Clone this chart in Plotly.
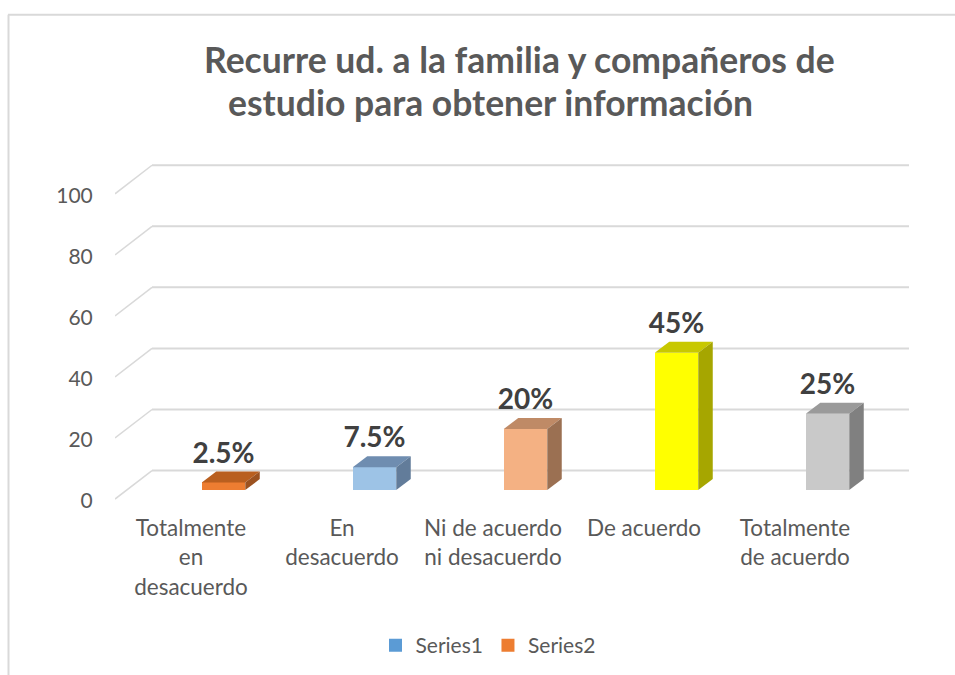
import plotly.graph_objects as go

# --- data ---
categories = ["Totalmente<br>en<br>desacuerdo", "En<br>desacuerdo",
              "Ni de acuerdo<br>ni desacuerdo", "De acuerdo", "Totalmente<br>de acuerdo"]
values = [2.5, 7.5, 20, 45, 25]
value_labels = ["2.5%", "7.5%", "20%", "45%", "25%"]
y_ticks = [0, 20, 40, 60, 80, 100]
front_colors = ["#ED7D31", "#9DC3E6", "#F4B183", "#FFFF00", "#C9C9C9"]
top_colors = ["#B95F1F", "#6F8DB0", "#BF8A66", "#C8C800", "#9A9A9A"]
side_colors = ["#9C5220", "#627C9A", "#9B7052", "#A6A600", "#808080"]
legend_names = ["Series1", "Series2"]
legend_colors = ["#5B9BD5", "#ED7D31"]

W, H = 955, 675
PX_X = 151.0   # pixels per category
PX_Y = 3.05    # pixels per value unit
L, R = 115, 909
Y0_PX = 499    # pixel of value 0 on the front plane
Y_MIN, Y_MAX = -2.6, 115
X_MIN = -(191 - L) / PX_X
X_MAX = (R - 191) / PX_X
PLOT_T = Y0_PX - Y_MAX * PX_Y
PLOT_B = Y0_PX - Y_MIN * PX_Y
m_top = PLOT_T
m_bot = H - PLOT_B


def px(x):
    return (x - L) / (R - L)


def py(y):
    return 1 - (y - PLOT_T) / (PLOT_B - PLOT_T)


# projection offsets of the pseudo-3D view
floor_dy = 9 / PX_Y
bar_w = 43.5 / PX_X
bar_off = 32.5 / PX_X - bar_w / 2
depth_dx = 14.5 / PX_X
depth_dy = 11 / PX_Y
wall_dx = 37 / PX_X
wall_dy = 28.5 / PX_Y

TXT = "#595959"
FONT = "Lato"
xs = list(range(len(categories)))

fig = go.Figure()

fig.add_trace(go.Bar(
    x=xs, y=values, base=floor_dy, width=bar_w, offset=bar_off,
    marker=dict(color=front_colors, line=dict(width=0)),
    showlegend=False, hoverinfo="skip"))

for i, v in enumerate(values):
    x0 = i + bar_off
    x1 = x0 + bar_w
    top = v + floor_dy
    fig.add_trace(go.Scatter(
        x=[x0, x0 + depth_dx, x1 + depth_dx, x1, x0],
        y=[top, top + depth_dy, top + depth_dy, top, top],
        mode="lines", fill="toself", fillcolor=top_colors[i],
        line=dict(width=0), showlegend=False, hoverinfo="skip"))
    fig.add_trace(go.Scatter(
        x=[x1, x1 + depth_dx, x1 + depth_dx, x1, x1],
        y=[top, top + depth_dy, floor_dy + depth_dy, floor_dy, top],
        mode="lines", fill="toself", fillcolor=side_colors[i],
        line=dict(width=0), showlegend=False, hoverinfo="skip"))

fig.add_trace(go.Scatter(
    x=[i + bar_off + bar_w / 2 for i in xs],
    y=[v + floor_dy + depth_dy + 0.6 for v in values],
    mode="text", text=value_labels, textposition="top center",
    textfont=dict(family=FONT, size=28, color="#404040", weight="bold"),
    showlegend=False, hoverinfo="skip"))

for name, col in zip(legend_names, legend_colors):
    fig.add_trace(go.Scatter(
        x=[None], y=[None], mode="markers", name=name,
        marker=dict(symbol="square", size=13, color=col)))

shapes = []
for t in y_ticks:
    shapes.append(dict(type="line", xref="x", yref="y", layer="below",
                       x0=X_MIN, y0=t, x1=X_MIN + wall_dx, y1=t + wall_dy,
                       line=dict(color="#D9D9D9", width=1.5)))
    shapes.append(dict(type="line", xref="x", yref="y", layer="below",
                       x0=X_MIN + wall_dx, y0=t + wall_dy, x1=X_MAX, y1=t + wall_dy,
                       line=dict(color="#D9D9D9", width=2)))
# outer frame of the chart
shapes.append(dict(type="line", xref="paper", yref="paper", x0=px(8), x1=px(W), y0=py(15), y1=py(15),
                   line=dict(color="#D9D9D9", width=2)))
shapes.append(dict(type="line", xref="paper", yref="paper", x0=px(8.5), x1=px(8.5), y0=py(H), y1=py(15),
                   line=dict(color="#D9D9D9", width=2)))

title_lines = [("Recurre ud. a la familia y compañeros de", 519.5, 59.5),
               ("estudio para obtener información", 490, 103)]
annotations = [dict(text=t, x=px(cx), y=py(cy), xref="paper", yref="paper",
                    xanchor="center", yanchor="middle", showarrow=False,
                    font=dict(family=FONT, size=35.5, color=TXT, weight="bold"))
               for t, cx, cy in title_lines]

fig.update_layout(
    width=W, height=H,
    margin=dict(l=L, r=W - R, t=m_top, b=m_bot, pad=0),
    paper_bgcolor="white", plot_bgcolor="white",
    shapes=shapes, annotations=annotations,
    xaxis=dict(range=[X_MIN, X_MAX], tickmode="array", tickvals=xs, ticktext=categories,
               showgrid=False, zeroline=False, showline=False, tickangle=0,
               ticks="outside", ticklen=1, tickcolor="rgba(0,0,0,0)",
               tickfont=dict(family=FONT, size=22.5, color=TXT)),
    yaxis=dict(range=[Y_MIN, Y_MAX], tickmode="array", tickvals=y_ticks,
               showgrid=False, zeroline=False, showline=False,
               ticks="outside", ticklen=17, tickcolor="rgba(0,0,0,0)",
               ticklabelshift=2,
               tickfont=dict(family=FONT, size=21, color=TXT)),
    legend=dict(orientation="h", xref="container", yref="container",
                x=488 / W, xanchor="center", y=1 - 625 / H, yanchor="top",
                font=dict(family=FONT, size=21, color=TXT), itemwidth=30),
    bargap=0,
)

fig.write_html("out.html", config=dict(displayModeBar=False),
               post_script="document.body.style.margin='0';")
